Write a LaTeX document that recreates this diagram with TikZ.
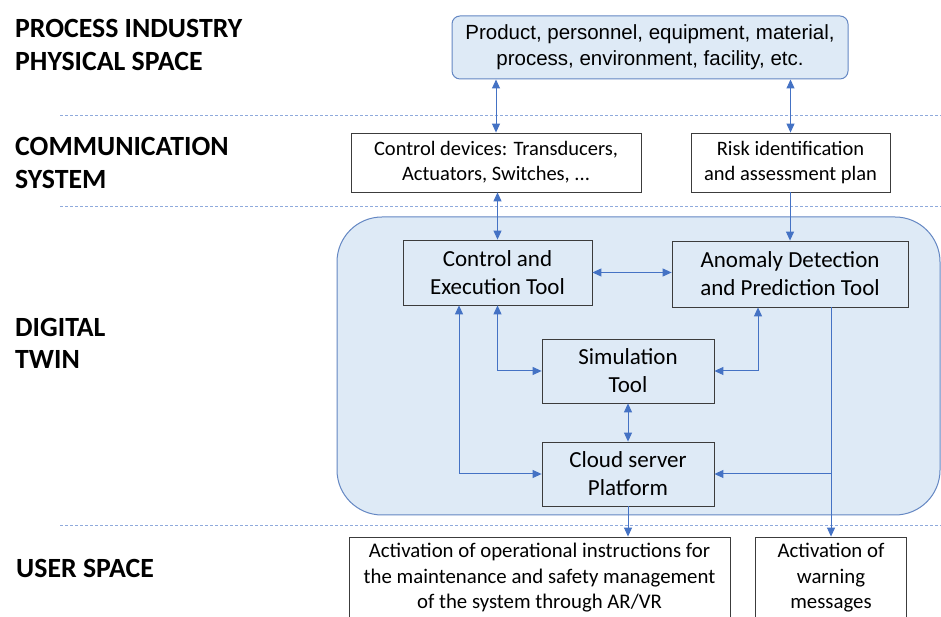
\documentclass[tikz,border=0pt]{standalone}
\usepackage{fontspec}
\setmainfont{Carlito}
\newfontfamily\arialfont{Liberation Sans}
\usetikzlibrary{arrows.meta}
\definecolor{arrowblue}{RGB}{68,114,196}
\definecolor{dashblue}{RGB}{143,170,220}
\definecolor{dtfill}{RGB}{222,234,246}
\definecolor{dtborder}{RGB}{100,135,195}
\definecolor{boxborder}{RGB}{60,60,60}
\begin{document}
\begin{tikzpicture}[x=1pt,y=1pt,
  head/.style={font=\fontsize{27.8}{32}\selectfont\bfseries, anchor=base west, inner sep=0},
  sep/.style={draw=dashblue, line width=1pt, dash pattern=on 3pt off 2pt},
  commbox/.style={draw=boxborder, fill=white, align=center, inner sep=0, line width=0.8pt,
     font=\fontsize{20.5}{25}\selectfont},
  toolbox/.style={draw=boxborder, fill=dtfill, align=center, inner sep=0, line width=0.8pt,
     font=\fontsize{23}{28}\selectfont},
  userbox/.style={draw=boxborder, fill=white, align=center, inner sep=0, line width=0.8pt,
     font=\fontsize{20.8}{25.5}\selectfont},
  conn/.style={draw=arrowblue, line width=1pt},
  tip/.style={-{Triangle[length=9pt,width=8pt]}},
  both/.style={{Triangle[length=9pt,width=8pt]}-{Triangle[length=9pt,width=8pt]}},
]
\useasboundingbox (0,0) rectangle (941,617);
\fill[white] (0,0) rectangle (941,617);

% headings
\node[head] (h1a) at (15,579.5) {PROCESS INDUSTRY};
\node[head] (h1b) at (15,546.5) {PHYSICAL SPACE};
\node[head] (h2a) at (15,461.5) {COMMUNICATION};
\node[head] (h2b) at (15,428.5) {SYSTEM};
\node[head] (h3a) at (15,280.5) {DIGITAL};
\node[head] (h3b) at (15,248.5) {TWIN};
\node[head] (h4a) at (16,39) {USER SPACE};

% separators
\draw[sep] (60,501) -- (941,501);
\draw[sep] (60,410) -- (941,410);
\draw[sep] (60,91) -- (941,91);

% digital twin container
\draw[draw=dtborder, fill=dtfill, line width=1pt, rounded corners=45pt] (337,102) rectangle (940,400);

% top box
\node[draw=dtborder, fill=dtfill, rounded corners=8pt, line width=1pt, align=center, inner sep=0,
      minimum width=396pt, minimum height=63pt, font=\arialfont\fontsize{20.5}{26}\selectfont]
      (top) at (650,569.5) {Product, personnel, equipment, material,\\process, environment, facility, etc.};

% communication boxes
\node[commbox, minimum width=290pt, minimum height=59pt] (lcomm) at (496,454.5)
  {Control devices: Transducers,\\Actuators, Switches, ...};
\node[commbox, minimum width=199pt, minimum height=59pt] (rcomm) at (790.5,454.5)
  {Risk identification\\and assessment plan};

% tools
\node[toolbox, minimum width=189pt, minimum height=65pt] (ctrl) at (497.5,344.5)
  {Control and\\Execution Tool};
\node[toolbox, minimum width=236pt, minimum height=66pt] (anom) at (790,343)
  {Anomaly Detection\\and Prediction Tool};
\node[toolbox, minimum width=172pt, minimum height=64pt] (sim) at (628,246)
  {Simulation\\Tool};
\node[toolbox, minimum width=172pt, minimum height=64pt] (cloud) at (628,143)
  {Cloud server\\Platform};

% user boxes
\node[userbox, minimum width=381pt, minimum height=82pt] (act) at (539.5,39)
  {Activation of operational instructions for\\the maintenance and safety management\\of the system through AR/VR};
\node[userbox, minimum width=151pt, minimum height=82pt] (warn) at (831,39)
  {Activation of\\warning\\messages};

% connectors
\draw[conn, both] (lcomm.north) -- (lcomm.north |- top.south);
\draw[conn, both] (rcomm.north) -- (rcomm.north |- top.south);
\draw[conn, both] (ctrl.north) -- (ctrl.north |- lcomm.south);
\draw[conn, tip] (anom.north |- rcomm.south) -- (anom.north);
\draw[conn, both] (ctrl.east) -- (ctrl.east -| anom.west);
\draw[conn, both] (ctrl.south) |- (sim.west);
\draw[conn, both] ([xshift=-38.5pt]ctrl.south) |- (cloud.west);
\draw[conn, both] ([xshift=-32pt]anom.south) |- (sim.east);
\draw[conn, both] (sim.south) -- (cloud.north);
\draw[conn, tip] (anom.south -| warn.north) -- (warn.north);
\draw[conn, tip] (warn.north |- cloud.east) -- (cloud.east);
\draw[conn, tip] (cloud.south) -- (cloud.south |- act.north);
\end{tikzpicture}
\end{document}
